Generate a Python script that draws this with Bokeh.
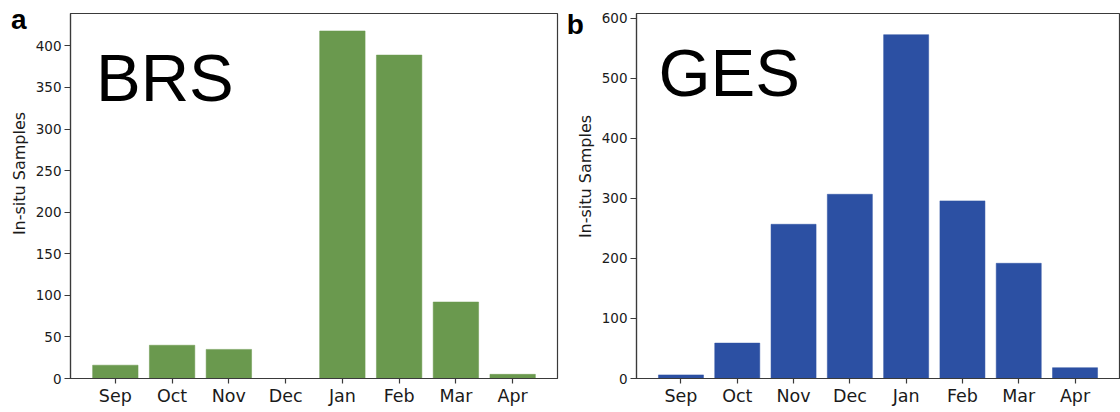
import math
from bokeh.plotting import figure
from bokeh.layouts import row
from bokeh.models import Range1d, FixedTicker, Label
from bokeh.embed import file_html
from bokeh.resources import INLINE

months = ["Sep", "Oct", "Nov", "Dec", "Jan", "Feb", "Mar", "Apr"]
brs_samples = [16, 40, 35, 0, 418, 389, 92, 5]
ges_samples = [6, 59, 257, 307, 573, 296, 192, 18]
brs_ticks = [0, 50, 100, 150, 200, 250, 300, 350, 400]
ges_ticks = [0, 100, 200, 300, 400, 500, 600]

XMIN, XMAX = -0.79, 7.79
FRAME_COLOR = "#3a3a3a"
H = 412
TOP, BOTTOM = 13, 34


def make_panel(values, color, yticks, ymax, width, bl, br, name, name_xy,
               name_size):
    xs = list(range(len(months)))
    p = figure(width=width, height=H, output_backend="svg",
               toolbar_location=None, x_range=Range1d(XMIN, XMAX),
               y_range=Range1d(0, ymax), min_border_left=bl,
               min_border_right=br, min_border_top=TOP,
               min_border_bottom=BOTTOM)
    p.vbar(x=xs, top=values, width=0.8, fill_color=color, line_color=color,
           line_width=0.5)
    p.xgrid.visible = False
    p.ygrid.visible = False
    p.outline_line_color = FRAME_COLOR
    p.outline_line_width = 1.2
    p.outline_line_alpha = 1.0
    p.background_fill_color = "white"
    p.border_fill_color = "white"

    p.xaxis.ticker = FixedTicker(ticks=xs)
    p.xaxis.major_label_overrides = {i: m for i, m in enumerate(months)}
    p.yaxis.ticker = FixedTicker(ticks=yticks)
    for ax in (p.xaxis[0], p.yaxis[0]):
        ax.axis_line_color = FRAME_COLOR
        ax.axis_line_width = 1.2
        ax.major_tick_line_color = FRAME_COLOR
        ax.major_tick_line_width = 1.2
        ax.major_tick_in = 0
        ax.minor_tick_line_color = None
        ax.major_label_text_font = "DejaVu Sans"
        ax.major_label_text_color = "#1a1a1a"
    p.xaxis.major_tick_out = 5
    p.yaxis.major_tick_out = 6
    p.xaxis.major_label_text_font_size = "17.5px"
    p.xaxis.major_label_standoff = 2
    p.yaxis.major_label_text_font_size = "13.5px"
    p.yaxis.major_label_standoff = 3

    p.add_layout(Label(x=name_xy[0], y=name_xy[1], text=name,
                       text_font="Liberation Sans", text_font_size=name_size,
                       text_color="black", text_align="left",
                       text_baseline="alphabetic"))
    return p


def make_side(width, letter, letter_xy, ylab_xy):
    s = figure(width=width, height=H, output_backend="svg",
               toolbar_location=None, x_axis_type=None, y_axis_type=None,
               x_range=Range1d(0, width), y_range=Range1d(H - BOTTOM, TOP),
               min_border_left=0, min_border_right=0, min_border_top=TOP,
               min_border_bottom=BOTTOM)
    s.outline_line_color = None
    s.background_fill_color = "white"
    s.border_fill_color = "white"
    s.add_layout(Label(x=letter_xy[0], y=letter_xy[1], text=letter,
                       text_font="Liberation Sans", text_font_style="bold",
                       text_font_size="28px", text_color="black",
                       text_align="left", text_baseline="alphabetic"))
    s.add_layout(Label(x=ylab_xy[0], y=ylab_xy[1], text="In-situ Samples",
                       text_font="DejaVu Sans", text_font_size="16px",
                       text_color="#1a1a1a", angle=math.pi / 2,
                       text_align="center", text_baseline="middle"))
    return s


s1 = make_side(30, "a", (10.5, 18.5), (19, 173))
p1 = make_panel(brs_samples, "#6a994e", brs_ticks, 439, 533, 40, 6,
                "BRS", (-0.34, 362.2), "67px")
s2 = make_side(35, "b", (3.3, 23.5), (21.5, 176))
p2 = make_panel(ges_samples, "#2c50a3", ges_ticks, 608.3, 522, 38, 1,
                "GES", (-0.40, 510.2), "67px")

layout = row(s1, p1, s2, p2, spacing=0)
open("out.html", "w").write(file_html(layout, INLINE))
